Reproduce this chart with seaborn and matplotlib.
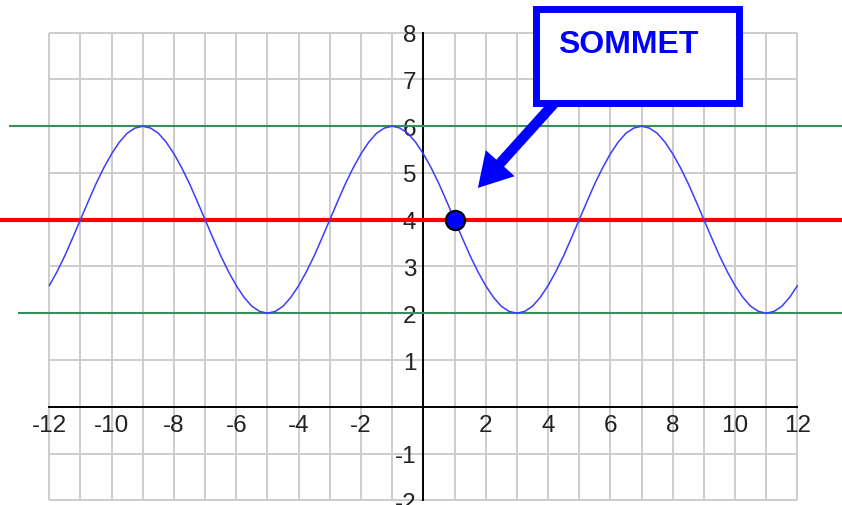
"""Sinusoide avec droites max / min / moyenne et sommet annoté."""
import matplotlib
matplotlib.use("Agg")
import matplotlib.pyplot as plt
from matplotlib.patches import Rectangle, FancyArrowPatch, ArrowStyle
import seaborn as sns
import numpy as np

# valeurs (pas de 0.25)
curve_x = np.arange(-12, 12.25, 0.25)
curve_y = [2.59, 2.89, 3.23, 3.61, 4.00, 4.39, 4.77, 5.11, 5.41, 5.66, 5.85, 5.96,
           6.00, 5.96, 5.85, 5.66, 5.41, 5.11, 4.77, 4.39, 4.00, 3.61, 3.23, 2.89,
           2.59, 2.34, 2.15, 2.04, 2.00, 2.04, 2.15, 2.34,
           2.59, 2.89, 3.23, 3.61, 4.00, 4.39, 4.77, 5.11, 5.41, 5.66, 5.85, 5.96,
           6.00, 5.96, 5.85, 5.66, 5.41, 5.11, 4.77, 4.39, 4.00, 3.61, 3.23, 2.89,
           2.59, 2.34, 2.15, 2.04, 2.00, 2.04, 2.15, 2.34,
           2.59, 2.89, 3.23, 3.61, 4.00, 4.39, 4.77, 5.11, 5.41, 5.66, 5.85, 5.96,
           6.00, 5.96, 5.85, 5.66, 5.41, 5.11, 4.77, 4.39, 4.00, 3.61, 3.23, 2.89,
           2.59, 2.34, 2.15, 2.04, 2.00, 2.04, 2.15, 2.34,
           2.59]
max_level = 6
mid_level = 4
min_level = 2
sommet_x = [1]
sommet_y = [4]
sommet_label = "SOMMET"

x_ticks = list(range(-12, 13))
y_ticks = list(range(-2, 9))
x_labels = [str(v) if v % 2 == 0 and v != 0 else "" for v in x_ticks]
y_labels = [str(v) if v != 0 else "" for v in y_ticks]

sns.set_style("white")
plt.rcParams["font.family"] = ["Liberation Sans", "DejaVu Sans"]

fig = plt.figure(figsize=(8.42, 5.06), dpi=100)
ax = fig.add_axes([0, 0, 1, 1])
ax.set_xlim(-13.58, 13.43)
ax.set_ylim(-2.10, 8.72)
ax.set_facecolor("white")

# quadrillage
grid_c = "#cccccc"
ax.vlines(x_ticks, y_ticks[0], y_ticks[-1], color=grid_c, lw=1.4, zorder=0)
ax.hlines(y_ticks, x_ticks[0], x_ticks[-1], color=grid_c, lw=1.4, zorder=0)

# axes au centre
for side in ["top", "right"]:
    ax.spines[side].set_visible(False)
ax.spines["left"].set_position(("data", 0))
ax.spines["bottom"].set_position(("data", 0))
ax.spines["left"].set_bounds(y_ticks[0], y_ticks[-1])
ax.spines["bottom"].set_bounds(x_ticks[0], x_ticks[-1])
for side in ["left", "bottom"]:
    ax.spines[side].set_color("black")
    ax.spines[side].set_linewidth(1.4)
    ax.spines[side].set_zorder(2)
ax.set_xticks(x_ticks)
ax.set_xticklabels(x_labels)
ax.set_yticks(y_ticks)
ax.set_yticklabels(y_labels)
ax.tick_params(direction="in", length=6, width=1.4, color="black",
               labelsize=17.5, labelcolor="#222222", pad=5)

# droites horizontales
ax.axhline(mid_level, color="#ff0000", lw=3, zorder=3)
ax.hlines(max_level, -13.29, 13.43, color="#3a8c5c", lw=1.5, zorder=3)
ax.hlines(min_level, -13.0, 13.43, color="#3a8c5c", lw=1.5, zorder=3)

sns.lineplot(x=curve_x, y=curve_y, ax=ax, color="#3c3cff", lw=1.1, zorder=4)
sns.scatterplot(x=sommet_x, y=sommet_y, ax=ax, s=190, color="#0000ff",
                edgecolor="black", linewidth=1.6, zorder=6)

# flèche + étiquette
arrow = FancyArrowPatch((4.32, 6.58), (1.75, 4.68),
                        arrowstyle=ArrowStyle.Simple(head_length=2.4, head_width=2.8, tail_width=0.75),
                        mutation_scale=10, color="#0000ff", lw=0,
                        shrinkA=0, shrinkB=0, zorder=5)
ax.add_patch(arrow)
ax.add_patch(Rectangle((3.63, 6.50), 6.51, 2.01, facecolor="white",
                       edgecolor="#0000ff", lw=5, zorder=7, clip_on=False))
ax.text(4.32, 7.75, sommet_label, color="#0000ff", fontsize=23,
        fontweight="bold", ha="left", va="center", zorder=8)

fig.savefig("out.png", dpi=100)
